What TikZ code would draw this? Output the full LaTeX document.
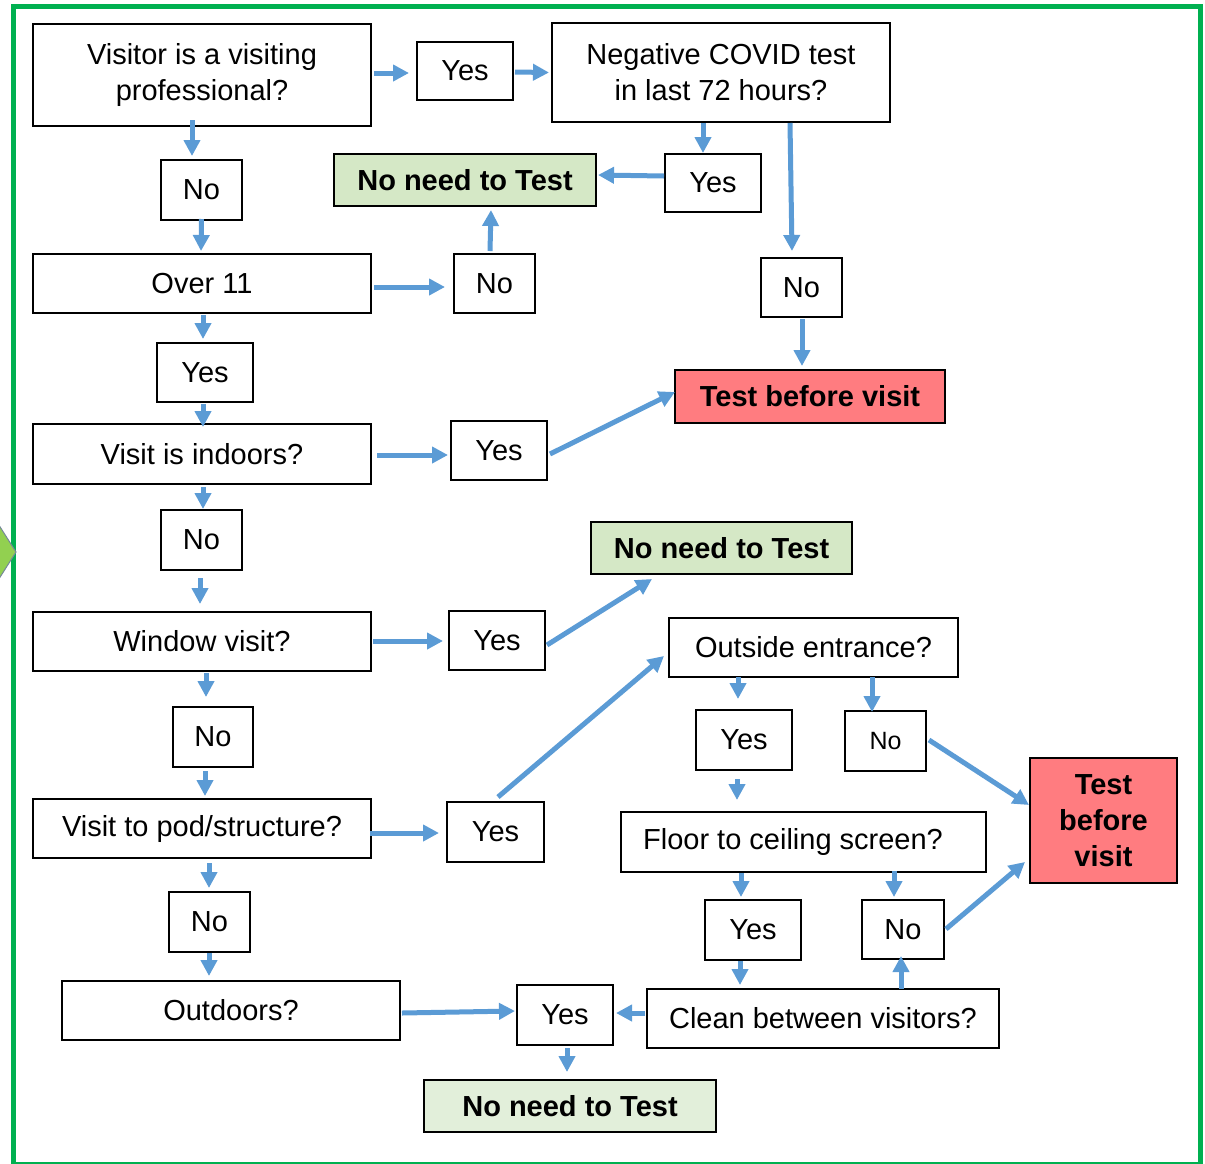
\documentclass[tikz,border=0pt]{standalone}
\usepackage{fontspec}
\setmainfont{Liberation Sans}
\usepackage{tikz}
\usetikzlibrary{arrows.meta}
\definecolor{flowblue}{HTML}{5B9BD5}
\definecolor{okgreen}{RGB}{213,232,198}
\definecolor{okgreenlight}{RGB}{226,239,218}
\definecolor{testred}{HTML}{FF7C80}
\definecolor{framegreen}{HTML}{00B050}
\definecolor{tipgreen}{HTML}{92D050}
\begin{document}
\begin{tikzpicture}[x=0.5pt,y=-0.5pt,
  box/.style={draw,line width=1pt,fill=white,align=center,inner sep=0pt,font=\fontsize{14.5}{18}\selectfont},
  dims/.style 2 args={minimum width=#1*0.5pt,minimum height=#2*0.5pt},
  question/.style={box,dims={338}{59}},
  answer/.style={box,dims={96}{59}},
  noans/.style={box,dims={81}{60}},
  notest/.style={box,fill=okgreen,font=\fontsize{14.5}{18}\selectfont\bfseries,dims={262}{52}},
  dotest/.style={box,fill=testred,font=\fontsize{14.5}{18}\selectfont\bfseries},
  flow/.style={draw=flowblue,line width=2.5pt,-{Triangle[length=8pt,width=8pt]}}]
\useasboundingbox (0,0) rectangle (1205,1163);
\draw[framegreen,line width=2.5pt] (13.5,6) rectangle (1200,1164);
\filldraw[fill=tipgreen,draw=gray!70!flowblue,line width=0.5pt] (-10,511) -- (16,552) -- (-10,593) -- cycle;

\node[question,dims={338}{102}] (prof) at (202,75) {Visitor is a visiting\\professional?};
\node[answer,dims={96}{58}] (yesA) at (465,71) {Yes};
\node[question,dims={338}{99}] (covid) at (721,72.5) {Negative COVID test\\in last 72 hours?};
\node[noans] (noA) at (201.5,190) {No};
\node[notest] (freeA) at (465,180) {No need to Test};
\node[answer,dims={96}{58}] (yesB) at (713,183) {Yes};
\node[question] (over) at (202,283.5) {Over 11};
\node[noans,dims={81}{59}] (noB) at (494.5,283.5) {No};
\node[noans,dims={81}{59}] (noC) at (801.5,287.5) {No};
\node[answer] (yesC) at (205,372.5) {Yes};
\node[dotest,dims={270}{53}] (testA) at (810,396.5) {Test before visit};
\node[question,dims={338}{60}] (indoor) at (202,454) {Visit is indoors?};
\node[answer] (yesD) at (499,450.5) {Yes};
\node[noans] (noD) at (201.5,540) {No};
\node[notest,dims={261}{52}] (freeB) at (721.5,548) {No need to Test};
\node[question] (window) at (202,641.5) {Window visit?};
\node[answer] (yesE) at (497,640.5) {Yes};
\node[question,dims={289}{59}] (entry) at (813.5,647.5) {Outside entrance?};
\node[noans,dims={80}{60}] (noE) at (213,737) {No};
\node[answer,dims={96}{60}] (yesF) at (744,740) {Yes};
\node[noans,font=\fontsize{12.5}{15}\selectfont] (noF) at (885.5,741) {No};
\node[dotest,dims={147}{125}] (testB) at (1103.5,820.5) {Test\\before\\visit};
\node[question] (pod) at (202,828.5) {Visit to pod/structure?};
\node[answer,dims={97}{60}] (yesG) at (495.5,832) {Yes};
\node[question,dims={365}{60}] (screen) at (803.5,842) {\hspace*{-10.5pt}Floor to ceiling screen?};
\node[noans] (noG) at (209.5,922) {No};
\node[answer,dims={96}{60}] (yesH) at (753,930) {Yes};
\node[noans,dims={82}{59}] (noH) at (903,929.5) {No};
\node[question] (outdoor) at (231,1010.5) {Outdoors?};
\node[answer,dims={96}{60}] (yesI) at (565,1015) {Yes};
\node[question,dims={352}{59}] (clean) at (823,1018.5) {Clean between visitors?};
\node[notest,fill=okgreenlight,dims={292}{52}] (freeC) at (570,1106) {No need to Test};

\draw[flow] ([shift={(2,-2)}]prof.east) -- ([shift={(-7,2)}]yesA.west);
\draw[flow] ([shift={(1,1)}]yesA.east) -- ([shift={(-2,0)}]covid.west);
\draw[flow] ([shift={(-10,-7)}]prof.south) -- ([shift={(-9.5,-3)}]noA.north);
\draw[flow] ([shift={(0,-2)}]noA.south) -- ([shift={(-1,-2)}]over.north);
\draw[flow] ([shift={(-18,0)}]covid.south) -- ([shift={(-10,0)}]yesB.north);
\draw[flow] ([shift={(0,-7)}]yesB.west) -- ([shift={(1,-5)}]freeA.east);
\draw[flow] ([shift={(69,0)}]covid.south) -- ([shift={(-9.5,-6)}]noC.north);
\draw[flow] ([shift={(2,3.5)}]over.east) -- ([shift={(-8,3.5)}]noB.west);
\draw[flow] ([shift={(-4.5,-2)}]noB.north) -- ([shift={(26,3)}]freeA.south);
\draw[flow] ([shift={(0.5,1)}]noC.south) -- ([shift={(-8,-3)}]testA.north);
\draw[flow] ([shift={(1,1)}]over.south) -- ([shift={(-2,-3)}]yesC.north);
\draw[flow] ([shift={(-2,1)}]yesC.south) -- ([shift={(1,4)}]indoor.north);
\draw[flow] ([shift={(5,1)}]indoor.east) -- ([shift={(-2,4.5)}]yesD.west);
\draw[flow] ([shift={(2,3.5)}]yesD.east) -- ([shift={(1,-4.5)}]testA.west);
\draw[flow] ([shift={(1,2)}]indoor.south) -- ([shift={(1.5,0)}]noD.north);
\draw[flow] ([shift={(-1.5,7)}]noD.south) -- ([shift={(-2,-7)}]window.north);
\draw[flow] ([shift={(1,-0.5)}]window.east) -- ([shift={(-5,0.5)}]yesE.west);
\draw[flow] ([shift={(1,4.5)}]yesE.east) -- ([shift={(-69.5,4)}]freeB.south);
\draw[flow] ([shift={(4,1)}]window.south) -- ([shift={(-7,-9)}]noE.north);
\draw[flow] ([shift={(-8,3)}]noE.south) -- ([shift={(3,-2)}]pod.north);
\draw[flow] ([shift={(-2,4.5)}]pod.east) -- ([shift={(-7,1)}]yesG.west);
\draw[flow] ([shift={(2.5,-4)}]yesG.north) -- ([shift={(-4,8.5)}]entry.west);
\draw[flow] ([shift={(7,4)}]pod.south) -- ([shift={(-0.5,-3)}]noG.north);
\draw[flow] ([shift={(-0.5,0)}]noG.south) -- ([shift={(-22,-4)}]outdoor.north);
\draw[flow] ([shift={(1,2.5)}]outdoor.east) -- ([shift={(-1,-4)}]yesI.west);
\draw[flow] ([shift={(2,2)}]yesI.south) -- ([shift={(-3,-7)}]freeC.north);
\draw[flow] ([shift={(-1,-5.5)}]clean.west) -- ([shift={(2,-2)}]yesI.east);
\draw[flow] ([shift={(-75.5,-1)}]entry.south) -- ([shift={(-6,-10)}]yesF.north);
\draw[flow] ([shift={(58.5,-1)}]entry.south) -- ([shift={(-13.5,2)}]noF.north);
\draw[flow] ([shift={(2,-1)}]noF.east) -- ([shift={(0,-15.5)}]testB.west);
\draw[flow] ([shift={(-7,8)}]yesF.south) -- ([shift={(-66.5,-11)}]screen.north);
\draw[flow] ([shift={(-62.5,0)}]screen.south) -- ([shift={(-12,-2)}]yesH.north);
\draw[flow] ([shift={(90.5,-2)}]screen.south) -- ([shift={(-9,-2)}]noH.north);
\draw[flow] ([shift={(1,-0.5)}]noH.east) -- ([shift={(-4,41.5)}]testB.west);
\draw[flow] ([shift={(-13,0)}]yesH.south) -- ([shift={(-83,-3)}]clean.north);
\draw[flow] ([shift={(78,1)}]clean.north) -- ([shift={(-2,-4)}]noH.south);
\end{tikzpicture}
\end{document}
